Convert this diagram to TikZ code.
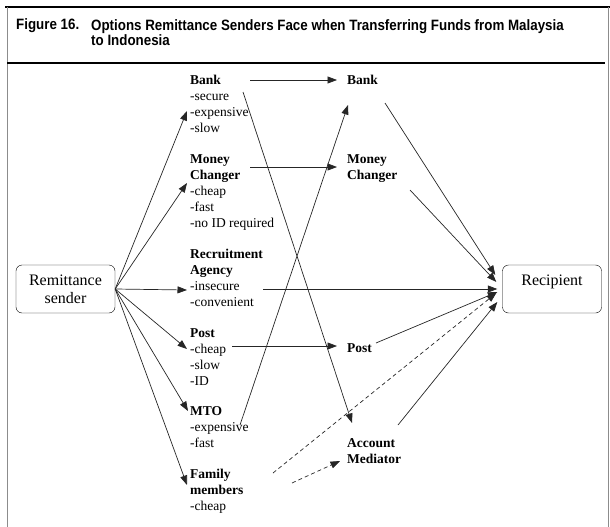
\documentclass[tikz,border=0pt]{standalone}
\usepackage{fontspec}
\setmainfont{Liberation Serif}
\newfontfamily\titlefont[FakeStretch=0.89]{Liberation Sans}
\usetikzlibrary{arrows.meta}

\begin{document}
\begin{tikzpicture}[x=1pt,y=-1pt,
  opt/.style={anchor=north west,inner sep=0pt,align=left,font=\fontsize{13.5}{16}\selectfont},
  endbox/.style={draw,rounded corners=6pt,minimum width=99pt,minimum height=48pt,align=center,font=\fontsize{16}{18}\selectfont},
  arr/.style={-{Triangle[length=9.5pt,width=7pt]},line width=0.7pt,black!85},
  dsh/.style={arr,dash pattern=on 4pt off 3pt}]
\useasboundingbox (0,0) rectangle (610,527);

% frame and heading
\draw[line width=1.6pt] (5,7) -- (610,7);
\draw[black!45,line width=0.8pt] (7,7) -- (7,527);
\draw[black!45,line width=0.8pt] (608,7) -- (608,527);
\draw[line width=1.4pt] (7,63) -- (605,63);
\node[anchor=base west,inner sep=0pt,font=\titlefont\bfseries\fontsize{15}{15}\selectfont] (fig) at (16,30) {Figure 16.};
\node[anchor=north west,inner sep=0pt,align=left,font=\titlefont\bfseries\fontsize{15}{15}\selectfont] (caption) at (91,19)
  {Options Remittance Senders Face when Transferring Funds from Malaysia\\to Indonesia};

% end points
\node[endbox] (sender) at (65.5,289) {Remittance\\sender};
\node[endbox] (recipient) at (552,289) {Recipient\\\mbox{}};

% the options open to the sender
\node[opt] (bankA) at (190,75) {\textbf{Bank}\\-secure\\-expensive\\-slow};
\node[opt] (moneyA) at (190,154) {\textbf{Money}\\\textbf{Changer}\\-cheap\\-fast\\-no ID required};
\node[opt] (recruitA) at (190,249) {\textbf{Recruitment}\\\textbf{Agency}\\-insecure\\-convenient};
\node[opt] (postA) at (190,328) {\textbf{Post}\\-cheap\\-slow\\-ID};
\node[opt] (mtoA) at (190,406) {\textbf{MTO}\\-expensive\\-fast};
\node[opt] (familyA) at (190,469) {\textbf{Family}\\\textbf{members}\\-cheap};

% second stage
\node[opt] (bankB) at (347,75) {\textbf{Bank}};
\node[opt] (moneyB) at (347,154) {\textbf{Money}\\\textbf{Changer}};
\node[opt] (postB) at (347,343) {\textbf{Post}};
\node[opt] (mediator) at (347,438) {\textbf{Account}\\\textbf{Mediator}};

\draw[arr] (sender.east) -- ([shift={(-3,36)}]bankA.north west);
\draw[arr] (sender.east) -- ([shift={(-3,29)}]moneyA.north west);
\draw[arr] (sender.east) -- ([shift={(-3,41)}]recruitA.north west);
\draw[arr] (sender.east) -- ([shift={(-3,21)}]postA.north west);
\draw[arr] (sender.east) -- ([shift={(-2,5)}]mtoA.north west);
\draw[arr] (sender.east) -- ([shift={(-3,16)}]familyA.north west);

\draw[arr] ([shift={(60,5)}]bankA.north west) -- ([shift={(-10,5)}]bankB.north west);
\draw[arr] ([shift={(60,13)}]moneyA.north west) -- ([shift={(-10,13)}]moneyB.north west);
\draw[arr] ([shift={(73,40)}]recruitA.north west) -- ([shift={(-5,0)}]recipient.west);
\draw[arr] ([shift={(42,18)}]postA.north west) -- ([shift={(-10,3)}]postB.north west);
\draw[arr] ([shift={(53,17)}]bankA.north west) -- ([shift={(5,-15)}]mediator.north west);
\draw[arr] ([shift={(50,19)}]mtoA.north west) -- ([shift={(1,30)}]bankB.north west);
\draw[dsh] ([shift={(83,4)}]familyA.north west) -- ([shift={(-6,4)}]recipient.west);
\draw[dsh] ([shift={(102,14)}]familyA.north west) -- ([shift={(-7,23)}]mediator.north west);

\draw[arr] ([shift={(38,28)}]bankB.north west) -- ([shift={(-7,-14)}]recipient.west);
\draw[arr] ([shift={(63,36)}]moneyB.north west) -- ([shift={(-6,-7)}]recipient.west);
\draw[arr] ([shift={(29,0)}]postB.north west) -- ([shift={(-5,3)}]recipient.west);
\draw[arr] ([shift={(51,-13)}]mediator.north west) -- ([shift={(-5,13)}]recipient.west);
\end{tikzpicture}
\end{document}
